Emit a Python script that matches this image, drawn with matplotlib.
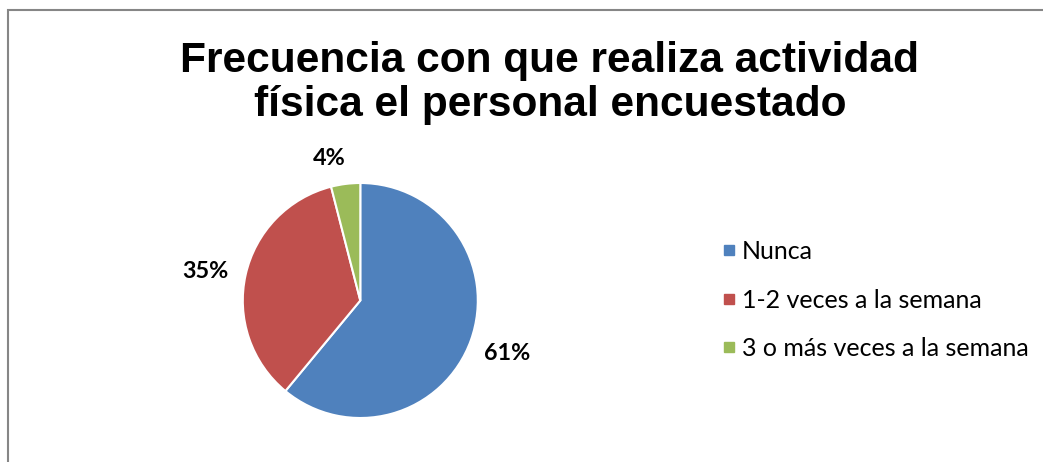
import matplotlib
matplotlib.use("Agg")
import matplotlib.pyplot as plt
from matplotlib.patches import Rectangle
from matplotlib.lines import Line2D
import numpy as np

# ---- data ----
title = "Frecuencia con que realiza actividad\nfísica el personal encuestado"
categories = ["Nunca", "1-2 veces a la semana", "3 o más veces a la semana"]
values = [61, 35, 4]
colors = ["#4F81BD", "#C0504D", "#9BBB59"]

W, H = 1043, 462
DPI = 100
fig = plt.figure(figsize=(W / DPI, H / DPI), dpi=DPI)
fig.patch.set_facecolor("white")

def px(x, y, w, h):
    """pixel box (top-left origin) -> figure fraction rect"""
    return [x / W, 1 - (y + h) / H, w / W, h / H]

# chart border (extends beyond right/bottom edge)
fig.patches.append(Rectangle((8 / W, -0.1), 1.2, 1 - 10 / H + 0.1,
                             transform=fig.transFigure, fill=False,
                             edgecolor="#868686", linewidth=1.5))

# title
fig.text(550 / W, 1 - 83 / H, title, ha="center", va="center",
         family="Liberation Sans", weight="bold", fontsize=30.6,
         linespacing=1.14)

# pie
cx, cy, r = 360.3, 300.5, 117.5
ax = fig.add_axes(px(cx - r, cy - r, 2 * r, 2 * r))
wedges, texts, autotexts = ax.pie(
    values, colors=colors, startangle=90, counterclock=False,
    autopct=lambda p: f"{p:.0f}%", pctdistance=1.3,
    wedgeprops=dict(edgecolor="white", linewidth=1.5),
    textprops=dict(family="Lato", weight="bold", fontsize=16.8))
ax.set_xlim(-1, 1)
ax.set_ylim(-1, 1)
ax.set_aspect("equal")
ax.axis("off")

# adjust label distances (Excel best-fit placement)
dists = [1.33, 1.34, 1.24]
offsets = [0, 2, 5]
for w, t, d, o in zip(wedges, autotexts, dists, offsets):
    ang = np.deg2rad((w.theta1 + w.theta2) / 2 + o)
    t.set_position((d * np.cos(ang), d * np.sin(ang)))
    t.set_ha("center")
    t.set_va("center")

# legend
handles = [Line2D([], [], marker="s", linestyle="none", markersize=7.5,
                  markerfacecolor=c, markeredgecolor=c) for c in colors]
fig.legend(handles, categories, loc="center left",
           bbox_to_anchor=(712 / W, 1 - 300 / H), frameon=False,
           prop=dict(family="Lato", size=18), handlelength=0.53,
           handletextpad=0.25, labelspacing=1.02, borderaxespad=0)

fig.savefig("out.png", dpi=DPI, facecolor="white")
